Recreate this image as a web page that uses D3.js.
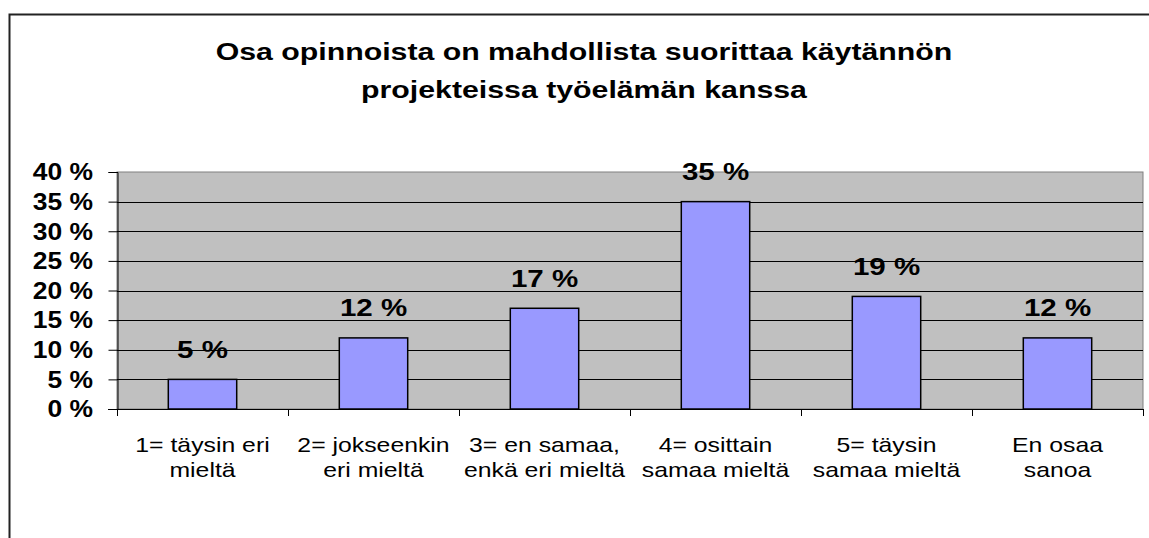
<!DOCTYPE html>
<html>
<head>
<meta charset="utf-8">
<script src="https://cdn.jsdelivr.net/npm/d3@7"></script>
<style>
  body { margin: 0; background: #fff; }
  svg { display: block; font-family: "Liberation Sans", Arial, sans-serif; }
</style>
</head>
<body>
<div id="chart"></div>
<script>
// chart data
var titleLines = ["Osa opinnoista on mahdollista suorittaa käytännön", "projekteissa työelämän kanssa"];
var categories = [
    ["1= täysin eri", "mieltä"],
    ["2= jokseenkin", "eri mieltä"],
    ["3= en samaa,", "enkä eri mieltä"],
    ["4= osittain", "samaa mieltä"],
    ["5= täysin", "samaa mieltä"],
    ["En osaa", "sanoa"]
];
var values = [5, 12, 17, 35, 19, 12];
var yTicks = [0, 5, 10, 15, 20, 25, 30, 35, 40];

var width = 1149, height = 538;
var plot = { left: 117, right: 1143, top: 172, bottom: 409 };

var svg = d3.select("#chart").append("svg")
    .attr("width", width)
    .attr("height", height);

// outer frame (only top and left visible)
svg.append("path")
    .attr("d", "M9.5,538 V14.5 H1149")
    .attr("fill", "none")
    .attr("stroke", "#222")
    .attr("stroke-width", 2);

// title (the original text is drawn wider than the font, so stretch it)
svg.append("g").selectAll("text")
    .data(titleLines)
    .enter().append("text")
    .attr("transform", function(d, i) { return "translate(584," + (60 + i * 38) + ") scale(1.317,1)"; })
    .attr("text-anchor", "middle")
    .style("font-size", "23px")
    .style("font-weight", "bold")
    .text(function(d) { return d; });

var x = d3.scaleBand()
    .domain(d3.range(categories.length))
    .range([plot.left, plot.right])
    .paddingInner(0.6)
    .paddingOuter(0.3);

var xOuter = d3.scaleBand()
    .domain(d3.range(categories.length))
    .range([plot.left, plot.right]);

var y = d3.scaleLinear()
    .domain([0, 40])
    .range([plot.bottom, plot.top]);

// plot background
svg.append("rect")
    .attr("x", plot.left)
    .attr("y", plot.top)
    .attr("width", plot.right - plot.left)
    .attr("height", plot.bottom - plot.top)
    .attr("fill", "#c0c0c0")
    .attr("stroke", "#808080")
    .attr("stroke-width", 1);

// gridlines
svg.append("g").selectAll("line")
    .data(yTicks.filter(function(d) { return d > 0 && d < 40; }))
    .enter().append("line")
    .attr("x1", plot.left)
    .attr("x2", plot.right)
    .attr("y1", function(d) { return Math.round(y(d)) + 0.5; })
    .attr("y2", function(d) { return Math.round(y(d)) + 0.5; })
    .attr("stroke", "#000")
    .attr("stroke-width", 1);

// bars
svg.append("g").selectAll("rect")
    .data(values)
    .enter().append("rect")
    .attr("x", function(d, i) { return x(i); })
    .attr("y", function(d) { return y(d); })
    .attr("width", x.bandwidth())
    .attr("height", function(d) { return plot.bottom - y(d); })
    .attr("fill", "#9999ff")
    .attr("stroke", "#000")
    .attr("stroke-width", 1.5);

// value labels
svg.append("g").selectAll("text")
    .data(values)
    .enter().append("text")
    .attr("transform", function(d, i) {
        return "translate(" + (x(i) + x.bandwidth() / 2) + "," + (y(d) - 21.5) + ") scale(1.23,1)";
    })
    .attr("text-anchor", "middle")
    .style("font-size", "24px")
    .style("font-weight", "bold")
    .text(function(d) { return d + " %"; });

// y axis: line + ticks from d3, labels drawn separately so they can be stretched
var yAxis = svg.append("g")
    .attr("transform", "translate(" + (plot.left + 0.5) + ",0)")
    .call(d3.axisLeft(y)
        .tickValues(yTicks)
        .tickSize(9)
        .tickFormat(""));
yAxis.select(".domain").attr("stroke", "#000");
yAxis.selectAll(".tick line").attr("stroke", "#000");

svg.append("g").selectAll("text")
    .data(yTicks)
    .enter().append("text")
    .attr("transform", function(d) { return "translate(93," + y(d) + ") scale(1.15,1)"; })
    .attr("dy", "0.36em")
    .attr("text-anchor", "end")
    .style("font-size", "23px")
    .style("font-weight", "bold")
    .text(function(d) { return d + " %"; });

// x axis
var boundaries = d3.range(categories.length + 1);
var xAxisG = svg.append("g");
xAxisG.append("line")
    .attr("x1", plot.left - 9)
    .attr("x2", plot.right)
    .attr("y1", plot.bottom + 0.5)
    .attr("y2", plot.bottom + 0.5)
    .attr("stroke", "#000");
xAxisG.selectAll(".xt")
    .data(boundaries)
    .enter().append("line")
    .attr("class", "xt")
    .attr("x1", function(d) { return Math.round(plot.left + d * xOuter.step()) + 0.5; })
    .attr("x2", function(d) { return Math.round(plot.left + d * xOuter.step()) + 0.5; })
    .attr("y1", plot.bottom)
    .attr("y2", plot.bottom + 7)
    .attr("stroke", "#000");

// category labels
var catText = svg.append("g").selectAll("g")
    .data(categories)
    .enter().append("g")
    .attr("transform", function(d, i) {
        return "translate(" + (xOuter(i) + xOuter.bandwidth() / 2) + ",0) scale(1.24,1)";
    });
catText.selectAll("text")
    .data(function(d) { return d; })
    .enter().append("text")
    .attr("x", 0)
    .attr("y", function(d, j) { return 452 + j * 25; })
    .attr("text-anchor", "middle")
    .style("font-size", "20px")
    .attr("fill", "#000")
    .text(function(d) { return d; });
</script>
</body>
</html>
